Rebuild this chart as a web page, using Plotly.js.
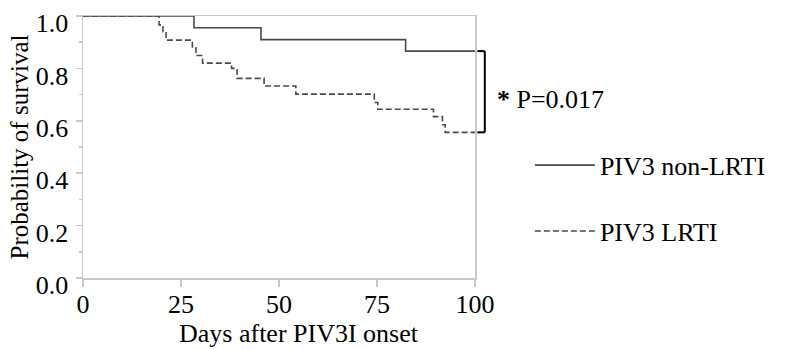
<!DOCTYPE html>
<html>
<head>
<meta charset="utf-8">
<script src="https://cdn.plot.ly/plotly-3.0.1.min.js"></script>
<style>html,body{margin:0;padding:0;background:#fff;}#chart{width:795px;height:349px;}</style>
</head>
<body>
<div id="chart"></div>
<script>
// Kaplan-Meier survival data
const nonLrtiDays = [0, 28.3, 45.4, 82.3, 100];
const nonLrtiSurv = [1.0, 0.955, 0.91, 0.866, 0.866];
const lrtiDays = [0, 19.4, 20.4, 21.2, 27.9, 28.8, 30.5, 37.9, 39.3, 46.2, 54.3, 74.3, 75.2, 89.4, 91.7, 92.4, 100];
const lrtiSurv = [1.0, 0.966, 0.94, 0.908, 0.879, 0.849, 0.82, 0.80, 0.762, 0.733, 0.702, 0.67, 0.644, 0.616, 0.585, 0.556, 0.556];
const seriesNames = ["PIV3 non-LRTI", "PIV3 LRTI"];
const xTicks = [0, 25, 50, 75, 100];
const yTicks = [0, 0.2, 0.4, 0.6, 0.8, 1.0];
const pValueText = "P=0.017";

const FONT = "Liberation Serif";
const lineColor = "#4a4a4a";

const traces = [
  {x: nonLrtiDays, y: nonLrtiSurv, name: seriesNames[0], mode: "lines", legendgroup: "a",
   line: {shape: "hv", color: lineColor, width: 1.6}},
  {x: lrtiDays, y: lrtiSurv, name: seriesNames[1], mode: "lines", legendgroup: "b",
   line: {shape: "hv", color: lineColor, width: 1.6, dash: "6px,3px"}}
];

const endNon = nonLrtiSurv[nonLrtiSurv.length - 1];
const endL = lrtiSurv[lrtiSurv.length - 1];

const layout = {
  width: 795, height: 349,
  margin: {l: 83, r: 320, t: 16, b: 71},
  paper_bgcolor: "#fff", plot_bgcolor: "#fff",
  font: {family: FONT, size: 26, color: "#000"},
  showlegend: true,
  legend: {x: 1.14, xanchor: "left", y: 0.52, yanchor: "top", itemwidth: 60,
           tracegroupgap: 29, font: {family: FONT, size: 26, color: "#000"},
           bgcolor: "rgba(0,0,0,0)"},
  xaxis: {range: [0, 100], tickvals: xTicks, ticktext: xTicks.map(String),
          showgrid: false, zeroline: false, showline: true, linecolor: "#c8c8c8", linewidth: 1.5,
          mirror: true, ticks: "outside", ticklen: 7, tickcolor: "#c8c8c8", tickwidth: 1.5,
          tickfont: {family: FONT, size: 26}, ticklabelstandoff: -5,
          title: {text: "&nbsp;&nbsp;&nbsp;&nbsp;&nbsp;&nbsp;Days after PIV3I onset", font: {family: FONT, size: 26}, standoff: 0}},
  yaxis: {range: [0, 1], tickvals: yTicks, ticktext: yTicks.map(v => v.toFixed(1)),
          showgrid: false, zeroline: false, showline: true, linecolor: "#c8c8c8", linewidth: 1.5,
          mirror: true, ticks: "outside", ticklen: 6, tickcolor: "#c8c8c8", tickwidth: 1.5,
          minor: {ticks: "outside", ticklen: 3, dtick: 0.1, tickcolor: "#c8c8c8", tickwidth: 1.5, showgrid: false},
          tickfont: {family: FONT, size: 26}, ticklabelshift: 7, ticklabelstandoff: 2,
          title: {text: "Probability of survival", font: {family: FONT, size: 25}, standoff: 0}},
  shapes: [
    {type: "line", xref: "paper", yref: "y", x0: 1.006, x1: 1.025, y0: endNon, y1: endNon, line: {color: "#000", width: 2}},
    {type: "line", xref: "paper", yref: "y", x0: 1.025, x1: 1.025, y0: endNon, y1: endL, line: {color: "#000", width: 2}},
    {type: "line", xref: "paper", yref: "y", x0: 1.006, x1: 1.025, y0: endL, y1: endL, line: {color: "#000", width: 2}}
  ],
  annotations: [
    {xref: "paper", yref: "y", x: 1.05, y: (endNon + endL) / 2 - 0.03, xanchor: "left", yanchor: "middle",
     showarrow: false, text: "<b>*</b> " + pValueText, font: {family: FONT, size: 26, color: "#000"}}
  ]
};

Plotly.newPlot("chart", traces, layout, {staticPlot: true, displayModeBar: false});
</script>
</body>
</html>
